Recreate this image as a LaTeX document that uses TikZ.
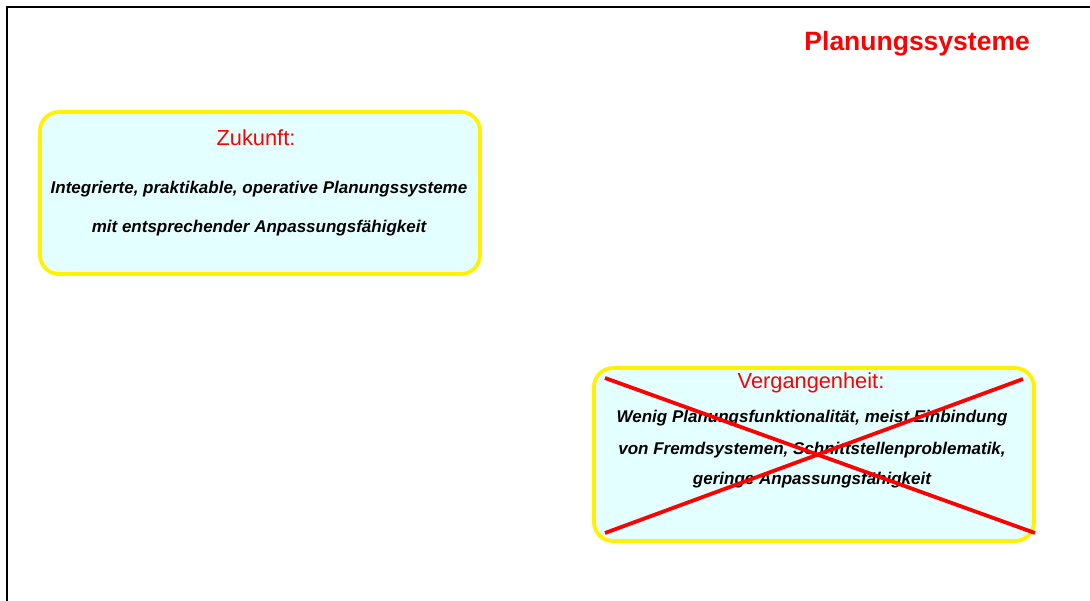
\documentclass[tikz,border=0pt]{standalone}
\usepackage{fontspec}
\setmainfont{Liberation Sans}
\definecolor{paleCyan}{RGB}{228,255,255}
\begin{document}
\begin{tikzpicture}[x=1pt,y=-1pt,
  panel/.style={draw=yellow, line width=3.8pt, fill=paleCyan, rounded corners=19pt, inner sep=0pt},
  heading/.style={anchor=base, inner sep=0pt, text=red, font=\fontsize{21.8}{24}\selectfont},
  body/.style={anchor=base, inner sep=0pt, text=black, font=\fontsize{17}{20}\selectfont\bfseries\itshape},
  strike/.style={draw=red, line width=3.8pt}]
\useasboundingbox (0,0) rectangle (1090,601);
% page frame (top and left edges)
\draw[line width=2.4pt] (7,601) -- (7,7) -- (1090,7);
% title
\node[anchor=base east, inner sep=0pt, text=red, font=\fontsize{26.5}{30}\selectfont\bfseries] (title) at (1030,51) {Planungssysteme};
% future panel
\node[panel, minimum width=440pt, minimum height=162pt] (zukunft) at (260,193) {};
\node[heading] (zhead) at (256,146) {Zukunft:};
\node[body] (zl1) at (259,194) {Integrierte, praktikable, operative Planungssysteme};
\node[body] (zl2) at (259,233) {mit entsprechender Anpassungsfähigkeit};
% past panel
\node[panel, minimum width=440pt, minimum height=173pt] (vergangenheit) at (814,454.5) {};
\node[heading] (vhead) at (811,389) {Vergangenheit:};
\node[body] (vl1) at (812,423) {Wenig Planungsfunktionalität, meist Einbindung};
\node[body] (vl2) at (812,454) {von Fremdsystemen, Schnittstellenproblematik,};
\node[body] (vl3) at (812,484) {geringe Anpassungsfähigkeit};
% crossed out
\coordinate (xa) at (605,378);
\coordinate (xb) at (1035,533);
\coordinate (xc) at (605,533);
\coordinate (xd) at (1023,379);
\draw[strike] (xa) -- (xb);
\draw[strike] (xc) -- (xd);
\end{tikzpicture}
\end{document}
